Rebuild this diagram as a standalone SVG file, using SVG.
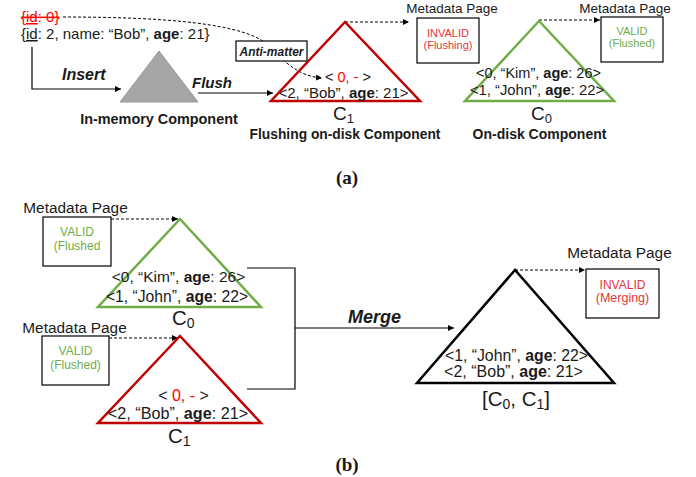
<svg xmlns="http://www.w3.org/2000/svg" width="696" height="477" viewBox="0 0 696 477">
<defs>
<marker id="ah" viewBox="0 0 10 10" refX="10" refY="5" markerWidth="6" markerHeight="6" markerUnits="userSpaceOnUse" orient="auto">
<path d="M0,0 L10,5 L0,10 z" fill="#000"/>
</marker>
<style>
text{font-family:"Liberation Sans",Arial,sans-serif;fill:#1a1a1a}
.b{font-weight:bold}
.bi{font-weight:bold;font-style:italic}
.m{text-anchor:middle}
.red{fill:#ff0000}
.inv{fill:#e3343c}
.val{fill:#70ad47}
.box{fill:#fff;stroke:#000;stroke-width:1.2}
.ln{fill:none;stroke:#000;stroke-width:1.2}
.dash{fill:none;stroke:#000;stroke-width:1;stroke-dasharray:3 2}
.cap{font-family:"Liberation Serif","Times New Roman",serif;font-weight:bold;font-size:19px}
</style>
</defs>

<!-- (a) -->
<g id="insert-record">
<text x="21" y="22" font-size="15" class="red" text-decoration="line-through">{<tspan text-decoration="underline">id</tspan>: 0}</text>
<text x="21" y="39" font-size="15">{<tspan text-decoration="underline">id</tspan>: 2, name: “Bob”, <tspan class="b">age</tspan>: 21}</text>
</g>

<g id="connectors-a">
<path class="ln" d="M32,47 V89 H121" marker-end="url(#ah)"/>
<path class="ln" d="M198,93 H273" marker-end="url(#ah)"/>
<path class="dash" d="M63,17 C170,17 245,24 268,45 C286,63 298,76 322,78" marker-end="url(#ah)"/>
<path class="dash" d="M345,22 H409" marker-end="url(#ah)"/>
<path class="dash" d="M539,20 H600" marker-end="url(#ah)"/>
</g>

<g id="label-insert"><text x="62" y="80" font-size="16" class="bi">Insert</text></g>
<g id="label-flush"><text x="192" y="88" font-size="15" class="bi">Flush</text></g>

<g id="in-memory">
<polygon points="159,51 120,102 198,102" fill="#a6a6a6" stroke="#999" stroke-width="1"/>
<text x="159" y="124" font-size="14.4" class="b m">In-memory Component</text>
</g>

<g id="anti-matter">
<rect class="box" x="236" y="41" width="71" height="20"/>
<text x="271.5" y="56" font-size="12" class="bi m">Anti-matter</text>
</g>

<g id="flushing-c1">
<polygon points="345,22 271,101 420,101" fill="none" stroke="#c00000" stroke-width="2.5" stroke-linejoin="miter"/>
<text x="348" y="82" font-size="14.5" class="m">&lt; <tspan class="red">0, -</tspan> &gt;</text>
<text x="343.5" y="98" font-size="15" class="m">&lt;2, “Bob”, <tspan class="b">age</tspan>: 21&gt;</text>
<text x="333" y="120" font-size="19">C<tspan font-size="13" dy="3">1</tspan></text>
<text x="345" y="139" font-size="13.8" class="b m">Flushing on-disk Component</text>
</g>

<g id="meta-flushing">
<text x="452" y="13" font-size="13.5" class="m">Metadata Page</text>
<rect class="box" x="417" y="18" width="62" height="45"/>
<text x="448" y="36.5" font-size="11" class="inv m">INVALID</text>
<text x="448" y="49" font-size="11" class="inv m">(Flushing)</text>
</g>

<g id="ondisk-c0">
<polygon points="539,21 465,101 614,101" fill="none" stroke="#70ad47" stroke-width="2.5"/>
<text x="538.5" y="78" font-size="14.5" class="m">&lt;0, “Kim”, <tspan class="b">age</tspan>: 26&gt;</text>
<text x="537" y="95" font-size="14.8" class="m">&lt;1, “John”, <tspan class="b">age</tspan>: 22&gt;</text>
<text x="531" y="120" font-size="19">C<tspan font-size="13" dy="3">0</tspan></text>
<text x="539.5" y="139" font-size="14" class="b m">On-disk Component</text>
</g>

<g id="meta-ondisk">
<text x="625" y="12.5" font-size="13.5" class="m">Metadata Page</text>
<rect class="box" x="601" y="17" width="62" height="45"/>
<text x="632" y="35" font-size="11" class="val m">VALID</text>
<text x="632" y="47" font-size="11" class="val m">(Flushed)</text>
</g>

<g id="caption-a"><text x="347" y="184" class="cap m">(a)</text></g>

<!-- (b) -->
<g id="connectors-b">
<path class="dash" d="M111,219 H178" marker-end="url(#ah)"/>
<path class="dash" d="M109,338 H178" marker-end="url(#ah)"/>
<path class="ln" d="M247,268 H295 V389 H247"/>
<path class="ln" d="M295,328 H454" marker-end="url(#ah)"/>
<path class="dash" d="M515,270 H585" marker-end="url(#ah)"/>
</g>

<g id="label-merge"><text x="348" y="323" font-size="18" class="bi">Merge</text></g>

<g id="meta-b-c0">
<text x="75.5" y="213" font-size="15.4" class="m">Metadata Page</text>
<rect class="box" x="43" y="217" width="68" height="49"/>
<text x="77" y="236" font-size="12" class="val m">VALID</text>
<text x="77" y="250" font-size="12" class="val m">(Flushed</text>
</g>

<g id="b-c0">
<polygon points="180,219 98,307 261,307" fill="none" stroke="#70ad47" stroke-width="2.5"/>
<text x="178.5" y="282" font-size="15.5" class="m">&lt;0, “Kim”, <tspan class="b">age</tspan>: 26&gt;</text>
<text x="177" y="302" font-size="15.7" class="m">&lt;1, “John”, <tspan class="b">age</tspan>: 22&gt;</text>
<text x="172" y="325" font-size="20.5">C<tspan font-size="14" dy="3">0</tspan></text>
</g>

<g id="meta-b-c1">
<text x="74.5" y="333" font-size="15.4" class="m">Metadata Page</text>
<rect class="box" x="42" y="336" width="67" height="49"/>
<text x="75.5" y="355" font-size="12" class="val m">VALID</text>
<text x="75.5" y="369" font-size="12" class="val m">(Flushed)</text>
</g>

<g id="b-c1">
<polygon points="180,336 98,423 261,423" fill="none" stroke="#c00000" stroke-width="2.5"/>
<text x="183.5" y="401" font-size="16" class="m">&lt; <tspan class="red">0, -</tspan> &gt;</text>
<text x="178" y="419" font-size="16.2" class="m">&lt;2, “Bob”, <tspan class="b">age</tspan>: 21&gt;</text>
<text x="168" y="443" font-size="20.5">C<tspan font-size="14" dy="3">1</tspan></text>
</g>

<g id="merged">
<polygon points="515,270 417,383 614,383" fill="none" stroke="#000" stroke-width="2.5"/>
<text x="516.5" y="361" font-size="15.8" class="m">&lt;1, “John”, <tspan class="b">age</tspan>: 22&gt;</text>
<text x="513.5" y="377" font-size="16" class="m">&lt;2, “Bob”, <tspan class="b">age</tspan>: 21&gt;</text>
<text x="482" y="406" font-size="20.5">[C<tspan font-size="14" dy="3">0</tspan><tspan dy="-3">, C</tspan><tspan font-size="14" dy="3">1</tspan><tspan dy="-3">]</tspan></text>
</g>

<g id="meta-merged">
<text x="619.5" y="258" font-size="15.4" class="m">Metadata Page</text>
<rect class="box" x="586" y="269" width="73" height="49"/>
<text x="622.5" y="289" font-size="12" class="inv m">INVALID</text>
<text x="622.5" y="302" font-size="12.5" class="inv m">(Merging)</text>
</g>

<g id="caption-b"><text x="347" y="471" class="cap m">(b)</text></g>
</svg>
